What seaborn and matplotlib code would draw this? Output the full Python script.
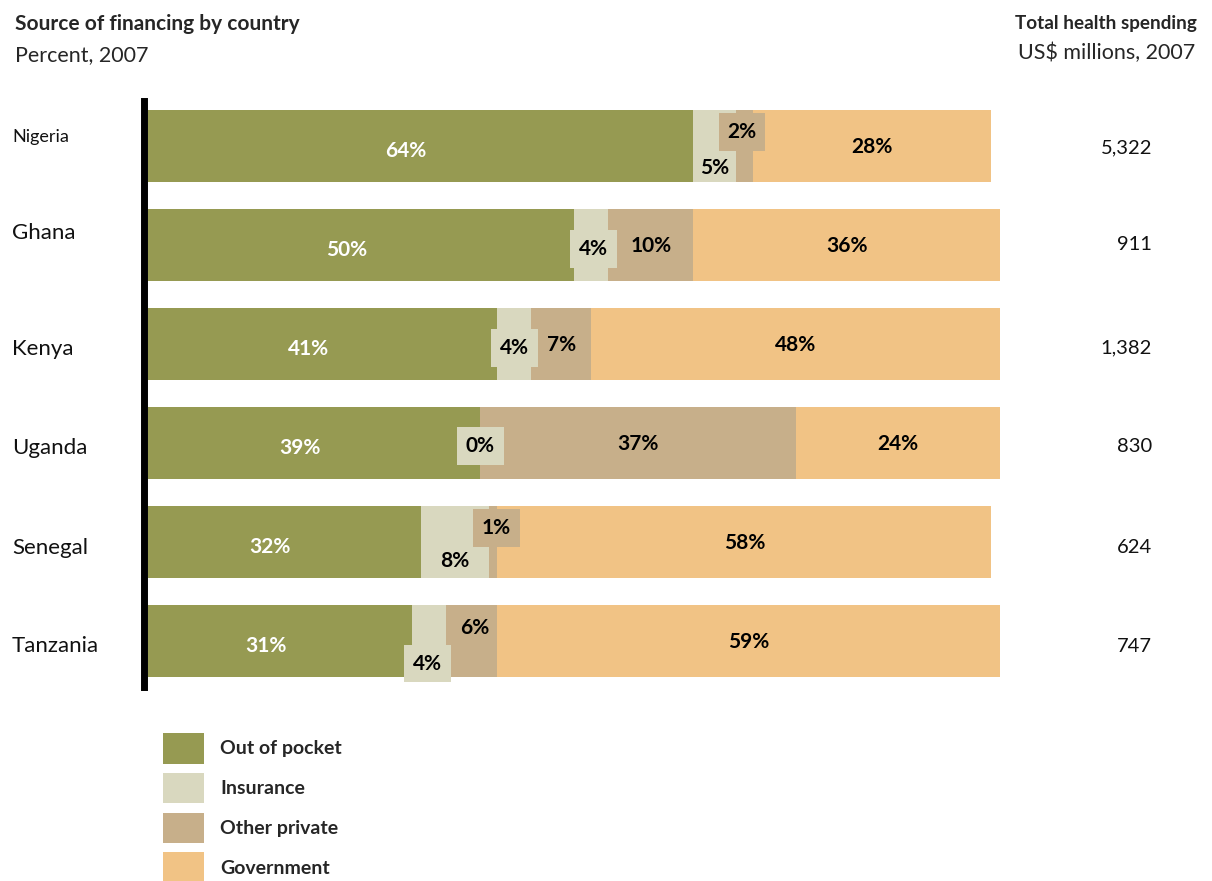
import numpy as np
import pandas as pd
import seaborn as sns
import matplotlib.pyplot as plt
from matplotlib.patches import Patch
from matplotlib.transforms import blended_transform_factory

sns.set_style("white")
plt.rcParams["font.family"] = ["Lato", "DejaVu Sans"]

# Financing shares by country (percent, 2007)
countries = ["Nigeria", "Ghana", "Kenya", "Uganda", "Senegal", "Tanzania"]
out_of_pocket = [64, 50, 41, 39, 32, 31]
insurance = [5, 4, 4, 0, 8, 4]
other_private = [2, 10, 7, 37, 1, 6]
government = [28, 36, 48, 24, 58, 59]
total_spending = ["5,322", "911", "1,382", "830", "624", "747"]

series_names = ["Out of pocket", "Insurance", "Other private", "Government"]
series_values = [out_of_pocket, insurance, other_private, government]
colors = ["#969a52", "#d9d8bf", "#c7af8a", "#f1c385"]
text_colors = ["white", "black", "black", "black"]

df = pd.DataFrame({"country": countries})
for name, vals in zip(series_names, series_values):
    df[name] = vals
cum = df[series_names].cumsum(axis=1)
starts = cum - df[series_names]

fig = plt.figure(figsize=(12.12, 8.81), dpi=100)
W, H = 1212, 881
ax = fig.add_axes([148 / W, 1 - 686.5 / H, (1000 - 148) / W, (686.5 - 100.5) / H])

# Stacked bars: draw cumulative totals from the outermost layer inward
for name, color in reversed(list(zip(series_names, colors))):
    sns.barplot(data=cum.assign(country=countries), x=name, y="country",
                orient="h", color=color, width=0.72, ax=ax,
                saturation=1, linewidth=0, order=countries)

ax.set_xlim(0, 100)
ax.set_ylim(5.46, -0.46)
ax.set_xlabel("")
ax.set_ylabel("")
ax.set_xticks([])
ax.set_yticks([])
for s in ["top", "right", "bottom"]:
    ax.spines[s].set_visible(False)
ax.spines["left"].set_linewidth(5.0)
ax.spines["left"].set_color("black")
ax.spines["left"].set_position(("outward", 2.6))

# Default label offsets per series (dx in percent, dy in bar units)
series_offsets = {"Out of pocket": (-1.7, 0.05), "Insurance": (0, 0.02),
                  "Other private": (0, 0.01), "Government": (0, 0.01)}
# Crowded labels: offsets and whether they get a backing box
label_tweaks = {
    ("Nigeria", "Insurance"): (0, 0.22, False),
    ("Nigeria", "Other private"): (-0.3, -0.14, True),
    ("Ghana", "Insurance"): (0.3, 0.04, True),
    ("Kenya", "Insurance"): (0, 0.04, True),
    ("Uganda", "Insurance"): (0, 0.03, True),
    ("Senegal", "Insurance"): (0, 0.19, False),
    ("Senegal", "Other private"): (0.4, -0.14, True),
    ("Tanzania", "Insurance"): (-0.2, 0.23, True),
    ("Tanzania", "Other private"): (0.3, -0.13, False),
}

for i, c in enumerate(countries):
    for j, name in enumerate(series_names):
        v = df.loc[i, name]
        xc = starts.loc[i, name] + v / 2
        dx, dy = series_offsets[name]
        boxed = False
        if (c, name) in label_tweaks:
            dx, dy, boxed = label_tweaks[(c, name)]
        kw = {}
        if boxed:
            kw["bbox"] = dict(boxstyle="square,pad=0.42", fc=colors[j], ec="none")
        ax.text(xc + dx, i + dy, f"{v}%", ha="center", va="center",
                fontsize=15, fontweight="bold", color=text_colors[j], **kw)

# Country names and totals on the sides
trans = blended_transform_factory(fig.transFigure, ax.transData)
name_sizes = [13, 16, 16, 16, 16, 16]
name_dy = [-0.09, -0.12, 0.05, 0.05, 0.06, 0.05]
total_dy = [0.02, -0.01, 0.04, 0.04, 0.06, 0.06]
for i, c in enumerate(countries):
    ax.text(12 / W, i + name_dy[i], c, transform=trans, ha="left", va="center",
            fontsize=name_sizes[i], color="#111111")
    ax.text(1152 / W, i + total_dy[i], total_spending[i], transform=trans,
            ha="right", va="center", fontsize=14.5, color="#111111")

# Headers
fig.text(15 / W, 1 - 24 / H, "Source of financing by country", ha="left",
         va="center", fontsize=15, fontweight="bold")
fig.text(15 / W, 1 - 55 / H, "Percent, 2007", ha="left", va="center", fontsize=15.5)
fig.text(1197 / W, 1 - 24 / H, "Total health spending", ha="right",
         va="center", fontsize=13.6, fontweight="bold")
fig.text(1195 / W, 1 - 53 / H, "US$ millions, 2007", ha="right",
         va="center", fontsize=15.5)

handles = [Patch(facecolor=col, edgecolor="none") for col in colors]
fig.legend(handles, series_names, loc="upper left",
           bbox_to_anchor=(163 / W, 1 - 733 / H), frameon=False,
           prop={"weight": "bold", "size": 14}, handlelength=2.1,
           handleheight=2.05, labelspacing=0.47, handletextpad=0.85,
           borderaxespad=0, borderpad=0)

fig.savefig("out.png", dpi=100)
